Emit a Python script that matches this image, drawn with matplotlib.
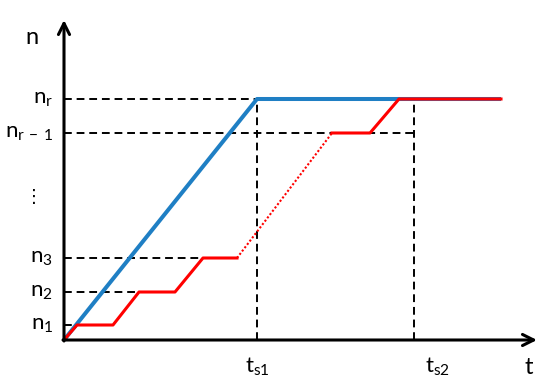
import matplotlib
matplotlib.use('Agg')
import matplotlib.pyplot as plt

plt.rcParams['font.family'] = ['Lato', 'DejaVu Sans']
plt.rcParams['mathtext.fontset'] = 'custom'
plt.rcParams['mathtext.rm'] = 'Lato'

# levels on the n axis
n_levels = [1.5, 4.8, 8.2, 20.7, 24.1]
n_labels = [r'$\mathregular{n_1}$', r'$\mathregular{n_2}$', r'$\mathregular{n_3}$',
            r'$\mathregular{n_{r\,-\,1}}$', r'$\mathregular{n_r}$']
# how far each horizontal guide runs along t
n_guide_end = [1.3, 7.5, 14.7, 35.0, 35.0]

# switching times
ts = [19.3, 35.0]
ts_labels = [r'$\mathregular{t_{s1}}$', r'$\mathregular{t_{s2}}$']
ts_label_x = [19.3, 37.4]

# blue ramp
blue_t = [0, 19.3, 43.7]
blue_n = [0, 24.1, 24.1]

# red staircase, solid parts
red1_t = [0, 1.3, 4.9, 7.5, 11.1, 13.9, 17.3]
red1_n = [0, 1.5, 1.5, 4.8, 4.8, 8.2, 8.2]
# dotted part
red2_t = [17.3, 26.8]
red2_n = [8.2, 20.7]
red3_t = [26.8, 30.6, 33.5, 43.7]
red3_n = [20.7, 20.7, 24.1, 24.1]

t_max = 47.3
n_max = 32.0

fig = plt.figure(figsize=(5.5, 3.87), dpi=100)
ax = fig.add_axes([0, 0, 1, 1])
ax.set_xlim(-6.4, 48.6)
ax.set_ylim(-4.7, 34.0)
ax.axis('off')

# dashed guides
for lv, te in zip(n_levels, n_guide_end):
    ax.plot([0, te], [lv, lv], color='black', lw=1.4, ls=(0, (4, 2.5)), zorder=1)
for t in ts:
    ax.plot([t, t], [0, n_levels[-1]], color='black', lw=1.4, ls=(0, (4, 2.5)), zorder=1)

ax.plot(blue_t, blue_n, color='#1f7fc4', lw=2.9, solid_capstyle='butt', zorder=2)
ax.plot(red1_t, red1_n, color='#ff0000', lw=2.2, zorder=3)
ax.plot(red2_t, red2_n, color='#ff0000', lw=1.5, ls=(0, (1, 1)), zorder=3)
ax.plot(red3_t, red3_n, color='#ff0000', lw=2.2, zorder=3)

# axes with arrows
arr = dict(arrowstyle='->', lw=2.2, color='black', mutation_scale=20, shrinkA=0, shrinkB=0)
ax.annotate('', xy=(t_max, 0), xytext=(-0.1, 0), arrowprops=arr, zorder=4)
ax.annotate('', xy=(0, n_max), xytext=(0, -0.1), arrowprops=arr, zorder=4)

fs = 16
for lv, lab in zip(n_levels, n_labels):
    ax.text(-1.1, lv, lab, fontsize=fs, ha='right', va='center')
ax.text(-3.0, 14.3, '⋮', fontsize=fs - 3, ha='center', va='center',
        family=['DejaVu Sans'])
for x, lab in zip(ts_label_x, ts_labels):
    ax.text(x, -2.7, lab, fontsize=fs, ha='center', va='center')
ax.text(-3.2, 30.2, 'n', fontsize=fs + 1, ha='center', va='center')
ax.text(46.5, -2.7, 't', fontsize=fs + 1, ha='center', va='center')

fig.savefig('out.png', dpi=100)
